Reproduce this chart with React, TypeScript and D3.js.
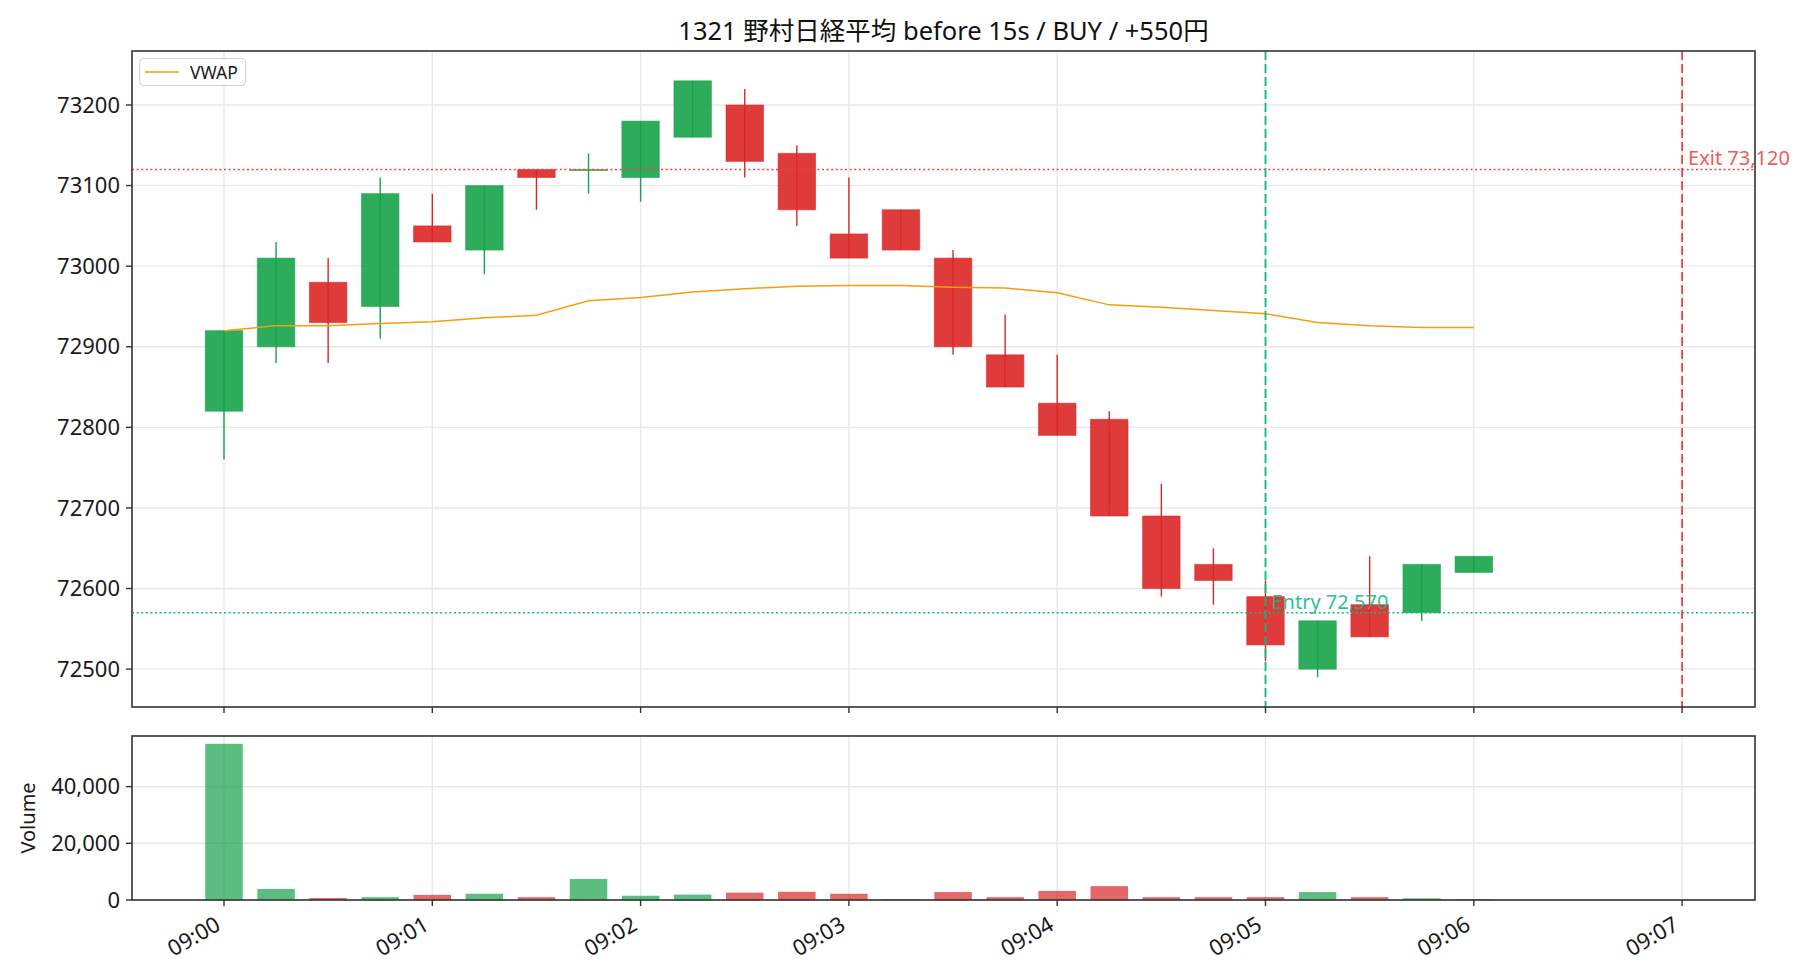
import React, { useEffect, useRef } from "react";
import * as d3 from "d3";

// 15s candles, 09:00:00 .. 09:06:00
const times = [
  "09:00:00", "09:00:15", "09:00:30", "09:00:45",
  "09:01:00", "09:01:15", "09:01:30", "09:01:45",
  "09:02:00", "09:02:15", "09:02:30", "09:02:45",
  "09:03:00", "09:03:15", "09:03:30", "09:03:45",
  "09:04:00", "09:04:15", "09:04:30", "09:04:45",
  "09:05:00", "09:05:15", "09:05:30", "09:05:45",
  "09:06:00",
];
const opens = [
  72820, 72900, 72980, 72950, 73050, 73020, 73120, 73120, 73110, 73160, 73200, 73140,
  73040, 73070, 73010, 72890, 72830, 72810, 72690, 72630, 72590, 72500, 72580, 72570, 72620,
];
const highs = [
  72920, 73030, 73010, 73110, 73090, 73100, 73120, 73140, 73180, 73230, 73220, 73150,
  73110, 73070, 73020, 72940, 72890, 72820, 72730, 72650, 72610, 72560, 72640, 72630, 72640,
];
const lows = [
  72760, 72880, 72880, 72910, 73030, 72990, 73070, 73090, 73080, 73160, 73110, 73050,
  73010, 73020, 72890, 72850, 72790, 72690, 72590, 72580, 72510, 72490, 72540, 72560, 72620,
];
const closes = [
  72920, 73010, 72930, 73090, 73030, 73100, 73110, 73120, 73180, 73230, 73130, 73070,
  73010, 73020, 72900, 72850, 72790, 72690, 72600, 72610, 72530, 72560, 72540, 72630, 72640,
];
const volumes = [
  55100, 3900, 700, 1000, 1800, 2200, 1000, 7400, 1500, 1900, 2600, 2900,
  2200, 200, 2800, 1000, 3200, 4900, 1000, 1000, 1000, 2800, 1000, 600, 200,
];
const vwap = [
  72920, 72926, 72926, 72929, 72931, 72936, 72939, 72957, 72961, 72968, 72972, 72975,
  72976, 72976, 72974, 72973, 72967, 72952, 72949, 72945, 72941, 72930, 72926, 72924, 72924,
];

const xTickLabels = ["09:00", "09:01", "09:02", "09:03", "09:04", "09:05", "09:06", "09:07"];
const priceTicks = [72500, 72600, 72700, 72800, 72900, 73000, 73100, 73200];
const volumeTicks = [0, 20000, 40000];

const entryTime = "09:05:00";
const entryPrice = 72570;
const exitTime = "09:07:00";
const exitPrice = 73120;
const title = "1321 野村日経平均 before 15s / BUY / +550円";

const W = 1820;
const H = 980;
const FONT = '"Noto Sans", "Noto Sans CJK JP", sans-serif';
const UP = "#16a34a";
const DOWN = "#dc2626";
const ENTRY = "#10b981";
const EXIT = "#ef4444";

export default function App() {
  const svgRef = useRef<SVGSVGElement>(null);

  useEffect(() => {
    document.body.style.margin = "0";
    const svg = d3.select(svgRef.current);
    svg.selectAll("*").remove();

    const parse = d3.timeParse("%H:%M:%S");
    const t = times.map((s) => parse(s) as Date);
    const tEntry = parse(entryTime) as Date;
    const tExit = parse(exitTime) as Date;
    const tickDates = xTickLabels.map((s) => parse(s + ":00") as Date);

    const L = 132, R = 1755;
    const mTop = 51, mBot = 707;
    const vTop = 736, vBot = 900;

    const x = d3.scaleTime()
      .domain([new Date(t[0].getTime() - 26500), new Date(tExit.getTime() + 21000)])
      .range([L, R]);

    const lo = d3.min(lows) as number;
    const hi = d3.max(highs) as number;
    const pad = (hi - lo) * 0.05;
    const y = d3.scaleLinear().domain([lo - pad, hi + pad]).range([mBot, mTop]);
    const yv = d3.scaleLinear().domain([0, (d3.max(volumes) as number) * 1.05]).range([vBot, vTop]);

    const barW = x(new Date(t[0].getTime() + 10800)) - x(t[0]);
    const col = (i: number) => (closes[i] >= opens[i] ? UP : DOWN);

    svg.append("rect").attr("width", W).attr("height", H).attr("fill", "#fff");

    // grids
    const grid = svg.append("g").attr("stroke", "#e8e8e8").attr("stroke-width", 1.4);
    tickDates.forEach((d) => {
      grid.append("line").attr("x1", x(d)).attr("x2", x(d)).attr("y1", mTop).attr("y2", mBot);
      grid.append("line").attr("x1", x(d)).attr("x2", x(d)).attr("y1", vTop).attr("y2", vBot);
    });
    priceTicks.forEach((v) => {
      grid.append("line").attr("x1", L).attr("x2", R).attr("y1", y(v)).attr("y2", y(v));
    });
    volumeTicks.forEach((v) => {
      grid.append("line").attr("x1", L).attr("x2", R).attr("y1", yv(v)).attr("y2", yv(v));
    });

    // candles
    const candles = svg.append("g");
    t.forEach((d, i) => {
      candles.append("line")
        .attr("x1", x(d)).attr("x2", x(d))
        .attr("y1", y(highs[i])).attr("y2", y(lows[i]))
        .attr("stroke", col(i)).attr("stroke-width", 1.4);
    });
    t.forEach((d, i) => {
      const top = y(Math.max(opens[i], closes[i]));
      const h = Math.max(1, y(Math.min(opens[i], closes[i])) - top);
      candles.append("rect")
        .attr("x", x(d) - barW / 2).attr("y", top)
        .attr("width", barW).attr("height", h)
        .attr("fill", col(i)).attr("fill-opacity", 0.9)
        .attr("stroke", col(i)).attr("stroke-opacity", 0.55).attr("stroke-width", 1);
    });

    // VWAP
    const line = d3.line<number>().x((_, i) => x(t[i])).y((v) => y(v));
    svg.append("path").attr("d", line(vwap)).attr("fill", "none")
      .attr("stroke", "#f59e0b").attr("stroke-width", 1.5);

    // entry / exit
    svg.append("line").attr("x1", L).attr("x2", R).attr("y1", y(entryPrice)).attr("y2", y(entryPrice))
      .attr("stroke", ENTRY).attr("stroke-width", 1.6).attr("stroke-dasharray", "2,2.6");
    svg.append("line").attr("x1", L).attr("x2", R).attr("y1", y(exitPrice)).attr("y2", y(exitPrice))
      .attr("stroke", EXIT).attr("stroke-width", 1.6).attr("stroke-dasharray", "2,2.6");
    svg.append("line").attr("x1", x(tEntry)).attr("x2", x(tEntry)).attr("y1", mTop).attr("y2", mBot)
      .attr("stroke", ENTRY).attr("stroke-width", 1.8).attr("stroke-dasharray", "9,4");
    svg.append("line").attr("x1", x(tExit)).attr("x2", x(tExit)).attr("y1", mTop).attr("y2", mBot)
      .attr("stroke", EXIT).attr("stroke-width", 1.8).attr("stroke-dasharray", "9,4");

    svg.append("text").attr("x", x(tEntry) + 6).attr("y", y(entryPrice) - 4)
      .attr("font-family", FONT).attr("font-size", 20).attr("fill", ENTRY).attr("fill-opacity", 0.9)
      .text("Entry " + d3.format(",")(entryPrice));
    svg.append("text").attr("x", x(tExit) + 6).attr("y", y(exitPrice) - 4)
      .attr("font-family", FONT).attr("font-size", 20).attr("fill", EXIT).attr("fill-opacity", 0.9)
      .text("Exit " + d3.format(",")(exitPrice));

    // volume bars
    t.forEach((d, i) => {
      svg.append("rect")
        .attr("x", x(d) - barW / 2).attr("y", yv(volumes[i]))
        .attr("width", barW).attr("height", yv(0) - yv(volumes[i]))
        .attr("fill", col(i)).attr("fill-opacity", 0.7);
    });

    // spines
    [[mTop, mBot], [vTop, vBot]].forEach(([a, b]) => {
      svg.append("rect").attr("x", L).attr("y", a).attr("width", R - L).attr("height", b - a)
        .attr("fill", "none").attr("stroke", "#333").attr("stroke-width", 1.6);
    });

    // ticks
    const tk = svg.append("g").attr("stroke", "#333").attr("stroke-width", 1.4);
    tickDates.forEach((d) => {
      tk.append("line").attr("x1", x(d)).attr("x2", x(d)).attr("y1", mBot).attr("y2", mBot + 6);
      tk.append("line").attr("x1", x(d)).attr("x2", x(d)).attr("y1", vBot).attr("y2", vBot + 6);
    });
    priceTicks.forEach((v) => {
      tk.append("line").attr("x1", L - 6).attr("x2", L).attr("y1", y(v)).attr("y2", y(v));
    });
    volumeTicks.forEach((v) => {
      tk.append("line").attr("x1", L - 6).attr("x2", L).attr("y1", yv(v)).attr("y2", yv(v));
    });

    const lbl = svg.append("g").attr("font-family", FONT).attr("font-size", 22).attr("fill", "#1a1a1a");
    priceTicks.forEach((v) => {
      lbl.append("text").attr("x", L - 12).attr("y", y(v)).attr("dy", "0.35em")
        .attr("text-anchor", "end").text(String(v));
    });
    volumeTicks.forEach((v) => {
      lbl.append("text").attr("x", L - 12).attr("y", yv(v)).attr("dy", "0.35em")
        .attr("text-anchor", "end").text(d3.format(",")(v));
    });
    tickDates.forEach((d, i) => {
      lbl.append("text")
        .attr("transform", `translate(${x(d) - 2},${vBot + 29}) rotate(-30)`)
        .attr("text-anchor", "end").text(xTickLabels[i]);
    });
    lbl.append("text")
      .attr("transform", `translate(35,${(vTop + vBot) / 2}) rotate(-90)`)
      .attr("text-anchor", "middle").attr("font-size", 20).text("Volume");

    // title
    svg.append("text").attr("x", (L + R) / 2).attr("y", 40)
      .attr("text-anchor", "middle").attr("font-family", FONT).attr("font-size", 25.5)
      .attr("fill", "#111").text(title);

    // legend
    const lg = svg.append("g");
    lg.append("rect").attr("x", 139.5).attr("y", 58.5).attr("width", 106).attr("height", 27).attr("rx", 4)
      .attr("fill", "#fff").attr("fill-opacity", 0.8).attr("stroke", "#d4d4d4").attr("stroke-width", 1.2);
    lg.append("line").attr("x1", 145).attr("x2", 179).attr("y1", 72).attr("y2", 72)
      .attr("stroke", "#f59e0b").attr("stroke-width", 1.5);
    lg.append("text").attr("x", 190).attr("y", 78.5).attr("font-family", FONT).attr("font-size", 17.5)
      .attr("fill", "#1a1a1a").text("VWAP");
  }, []);

  return <svg ref={svgRef} width={W} height={H} style={{ display: "block" }} />;
}
